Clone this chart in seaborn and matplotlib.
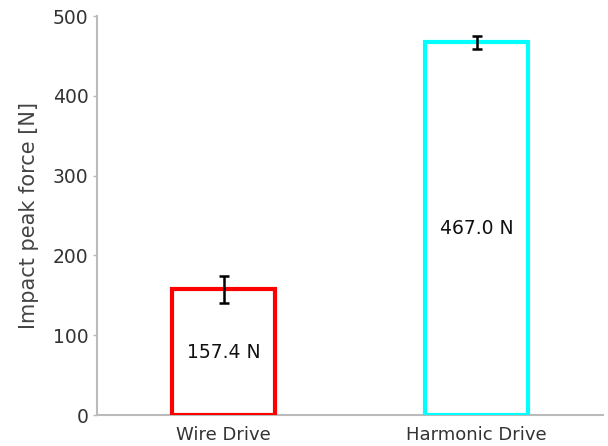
import matplotlib
matplotlib.use("Agg")
import matplotlib.pyplot as plt
import seaborn as sns
import pandas as pd

# Measured impact peak forces for the two drive mechanisms
drives = ["Wire Drive", "Harmonic Drive"]
peak_force = [157.4, 467.0]
force_sd = [17.0, 8.5]
edge_colors = ["#ff0000", "#00ffff"]
value_labels = ["157.4 N", "467.0 N"]
y_ticks = [0, 100, 200, 300, 400, 500]

sns.set_theme(style="white")
plt.rcParams["font.family"] = ["DejaVu Sans"]

df = pd.DataFrame({"drive": drives, "force": peak_force})

fig = plt.figure(figsize=(6.08, 4.46), dpi=100)
ax = fig.add_axes([0.1595, 0.0695, 0.8325, 0.8945])

sns.barplot(data=df, x="drive", y="force", hue="drive", palette=edge_colors,
            width=0.405, errorbar=None, legend=False, ax=ax)

for patch, col in zip(ax.patches, edge_colors):
    patch.set_facecolor("white")
    patch.set_edgecolor(col)
    patch.set_linewidth(3.0)
    patch.set_zorder(3)

ax.errorbar(range(len(drives)), peak_force, yerr=force_sd, fmt="none",
            ecolor="black", elinewidth=1.8, capsize=3.5, capthick=1.8, zorder=5)

for i, (v, lab) in enumerate(zip(peak_force, value_labels)):
    ax.text(i, v / 2, lab, ha="center", va="center", fontsize=13.5,
            color="#111111", zorder=6)

ax.set_xlim(-0.5, 1.5)
ax.set_ylim(0, 500)
ax.set_yticks(y_ticks)
ax.set_xlabel("")
ax.set_ylabel("Impact peak force [N]", fontsize=15, color="#444444", labelpad=10)

for side in ["top", "right"]:
    ax.spines[side].set_visible(False)
for side in ["left", "bottom"]:
    ax.spines[side].set_color("#bbbbbb")
    ax.spines[side].set_linewidth(1.5)
    ax.spines[side].set_zorder(1)

ax.tick_params(axis="y", left=True, length=3, width=1, color="#bbbbbb",
               labelsize=13.5, labelcolor="#333333", pad=3)
ax.tick_params(axis="x", bottom=False, labelsize=13, labelcolor="#333333", pad=2)

fig.savefig("out.png", dpi=100)
